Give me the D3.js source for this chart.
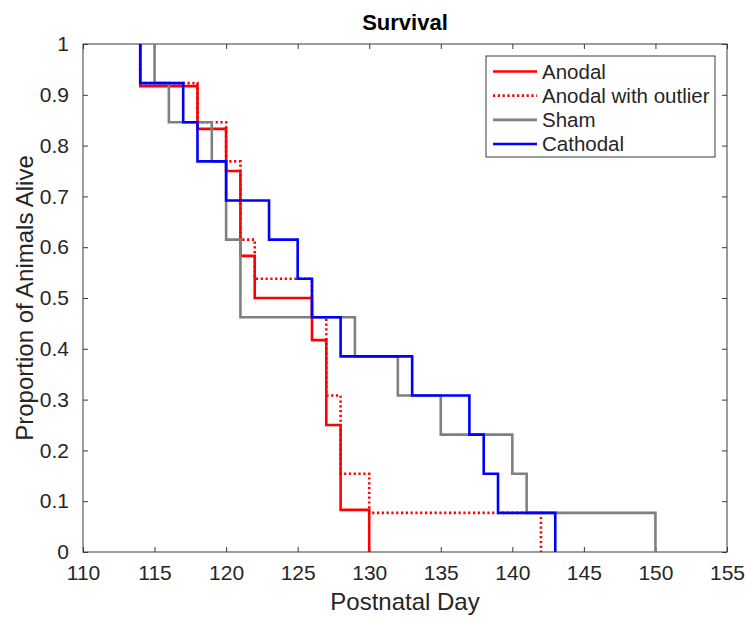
<!DOCTYPE html>
<html>
<head>
<meta charset="utf-8">
<script src="https://cdn.jsdelivr.net/npm/d3@7"></script>
<style>
  body { margin: 0; background: #fff; }
  svg { display: block; font-family: "Liberation Sans", Arial, Helvetica, sans-serif; }
</style>
</head>
<body>
<div id="chart"></div>
<script>
// death days and survival proportion right after each drop
const anodalDays = [114, 118, 120, 121, 122, 126, 127, 128, 130];
const anodalSurv = [0.917, 0.833, 0.75, 0.583, 0.5, 0.417, 0.25, 0.083, 0];

const outlierDays = [114, 118, 120, 121, 122, 126, 127, 128, 130, 142];
const outlierSurv = [0.923, 0.846, 0.769, 0.615, 0.538, 0.462, 0.308, 0.154, 0.077, 0];

const shamDays = [115, 116, 119, 120, 121, 129, 132, 135, 140, 141, 150];
const shamSurv = [0.923, 0.846, 0.769, 0.615, 0.462, 0.385, 0.308, 0.231, 0.154, 0.077, 0];

const cathodalDays = [114, 117, 118, 120, 123, 125, 126, 128, 133, 137, 138, 139, 143];
const cathodalSurv = [0.923, 0.846, 0.769, 0.692, 0.615, 0.538, 0.462, 0.385, 0.308, 0.231, 0.154, 0.077, 0];

const xTicks = [110, 115, 120, 125, 130, 135, 140, 145, 150, 155];
const yTicks = [0, 0.1, 0.2, 0.3, 0.4, 0.5, 0.6, 0.7, 0.8, 0.9, 1];

const seriesNames = ['Anodal', 'Anodal with outlier', 'Sham', 'Cathodal'];

const width = 745;
const height = 617;
const margin = { top: 44, right: 18, bottom: 65, left: 83 };
const innerW = width - margin.left - margin.right;
const innerH = height - margin.top - margin.bottom;
const axisColor = '#3a3a3a';
const textColor = '#262626';

const series = [
    { name: seriesNames[0], days: anodalDays, surv: anodalSurv, color: '#ff0000', dash: null },
    { name: seriesNames[1], days: outlierDays, surv: outlierSurv, color: '#ff0000', dash: '2.2,2.6' },
    { name: seriesNames[2], days: shamDays, surv: shamSurv, color: '#808080', dash: null },
    { name: seriesNames[3], days: cathodalDays, surv: cathodalSurv, color: '#0000ff', dash: null },
];

const svg = d3.select('#chart')
    .append('svg')
    .attr('width', width)
    .attr('height', height);

const g = svg.append('g')
    .attr('transform', `translate(${margin.left},${margin.top})`);

const x = d3.scaleLinear().domain([110, 155]).range([0, innerW]);
const y = d3.scaleLinear().domain([0, 1]).range([innerH, 0]);

// axes with inward ticks on all four sides
const tickLen = 5;
const fmtY = d => d === 0 || d === 1 ? String(d) : d3.format('.1f')(d);

const axBottom = g.append('g')
    .attr('transform', `translate(0,${innerH})`)
    .call(d3.axisBottom(x).tickValues(xTicks).tickSizeInner(-tickLen).tickSizeOuter(0).tickPadding(14));
const axLeft = g.append('g')
    .call(d3.axisLeft(y).tickValues(yTicks).tickFormat(fmtY).tickSizeInner(-tickLen).tickSizeOuter(0).tickPadding(14));
const axTop = g.append('g')
    .call(d3.axisTop(x).tickValues(xTicks).tickSizeInner(-tickLen).tickSizeOuter(0).tickFormat(''));
const axRight = g.append('g')
    .attr('transform', `translate(${innerW},0)`)
    .call(d3.axisRight(y).tickValues(yTicks).tickSizeInner(-tickLen).tickSizeOuter(0).tickFormat(''));

[axBottom, axLeft, axTop, axRight].forEach(a => {
    a.select('.domain').remove();
    a.selectAll('line').attr('stroke', axisColor);
    a.selectAll('text')
        .attr('fill', textColor)
        .style('font-size', '21px');
});
axBottom.selectAll('text').attr('dy', '0.68em');

g.append('rect')
    .attr('width', innerW)
    .attr('height', innerH)
    .attr('fill', 'none')
    .attr('stroke', axisColor)
    .attr('stroke-width', 1);

const line = d3.line()
    .x(d => x(d[0]))
    .y(d => y(d[1]))
    .curve(d3.curveStepAfter);

series.forEach(s => {
    const pts = [[s.days[0], 1]].concat(s.days.map((d, i) => [d, s.surv[i]]));
    g.append('path')
        .datum(pts)
        .attr('d', line)
        .attr('fill', 'none')
        .attr('stroke', s.color)
        .attr('stroke-width', 2.6)
        .attr('stroke-dasharray', s.dash)
        .attr('stroke-linejoin', 'miter');
});

// title and labels
svg.append('text')
    .attr('x', margin.left + innerW / 2)
    .attr('y', 30)
    .attr('text-anchor', 'middle')
    .attr('fill', '#000')
    .style('font-size', '22px')
    .style('font-weight', 'bold')
    .text('Survival');

svg.append('text')
    .attr('x', margin.left + innerW / 2)
    .attr('y', 610)
    .attr('text-anchor', 'middle')
    .attr('fill', textColor)
    .style('font-size', '24px')
    .text('Postnatal Day');

svg.append('text')
    .attr('transform', `translate(33,${margin.top + innerH / 2}) rotate(-90)`)
    .attr('text-anchor', 'middle')
    .attr('fill', textColor)
    .style('font-size', '24px')
    .text('Proportion of Animals Alive');

// legend
const legend = svg.append('g').attr('transform', 'translate(486,56)');
legend.append('rect')
    .attr('width', 229)
    .attr('height', 101)
    .attr('fill', '#fff')
    .attr('stroke', axisColor)
    .attr('stroke-width', 1);

const rowY = d3.scalePoint().domain(seriesNames).range([15.5, 88]);
series.forEach(s => {
    const row = legend.append('g').attr('transform', `translate(0,${rowY(s.name)})`);
    row.append('line')
        .attr('x1', 7).attr('x2', 51)
        .attr('stroke', s.color)
        .attr('stroke-width', 2.6)
        .attr('stroke-dasharray', s.dash);
    row.append('text')
        .attr('x', 56)
        .attr('dy', '0.36em')
        .attr('fill', textColor)
        .style('font-size', '20.5px')
        .text(s.name);
});
</script>
</body>
</html>
